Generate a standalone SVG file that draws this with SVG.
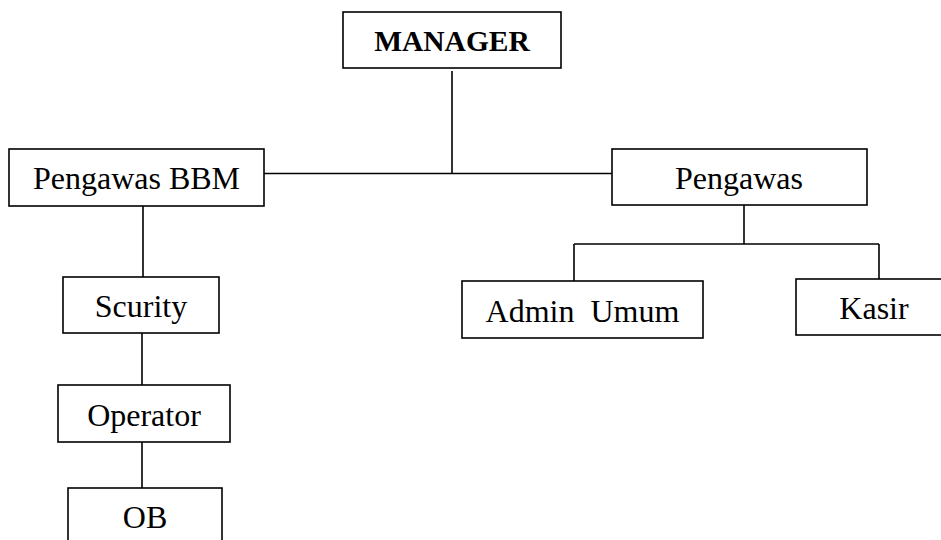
<svg xmlns="http://www.w3.org/2000/svg" width="941" height="540" viewBox="0 0 941 540">
<style>
.box{fill:#fff;stroke:#000;stroke-width:1.6}
.t{font-family:"Liberation Serif","Times New Roman",serif;font-size:32px;fill:#000;text-anchor:middle;white-space:pre}
.b{font-weight:bold;font-size:29.5px}
.c{stroke:#000;stroke-width:1.6;fill:none}
</style>
<rect width="941" height="540" fill="#fff"/>
<g id="connectors">
<path class="c" d="M452 71V173.5M264 173.5H612"/>
<path class="c" d="M143 206V277M142 333V385M142 442V488"/>
<path class="c" d="M744 205V244M574 244H879M574 244V281M879 244V279"/>
</g>
<g id="manager"><rect class="box" x="343" y="12" width="218" height="56"/><text class="t b" x="452" y="51">MANAGER</text></g>
<g id="pengawas-bbm"><rect class="box" x="9" y="149" width="255" height="57"/><text class="t" x="136.5" y="189">Pengawas BBM</text></g>
<g id="pengawas"><rect class="box" x="612" y="149" width="255" height="56"/><text class="t" x="739" y="189">Pengawas</text></g>
<g id="scurity"><rect class="box" x="63" y="277" width="156" height="56"/><text class="t" x="141" y="317">Scurity</text></g>
<g id="operator"><rect class="box" x="58" y="385" width="172" height="57"/><text class="t" x="144" y="425.5">Operator</text></g>
<g id="ob"><rect class="box" x="68" y="488" width="154" height="70"/><text class="t" x="145" y="528">OB</text></g>
<g id="admin-umum"><rect class="box" x="462" y="281" width="241" height="57"/><text class="t" x="582.5" y="322">Admin  Umum</text></g>
<g id="kasir"><rect class="box" x="796" y="279" width="156" height="56"/><text class="t" x="874" y="319">Kasir</text></g>
</svg>
